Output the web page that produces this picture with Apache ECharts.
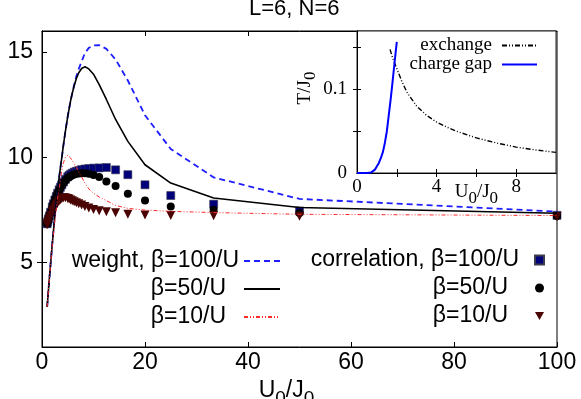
<!DOCTYPE html>
<html><head><meta charset="utf-8">
<script src="https://cdn.jsdelivr.net/npm/echarts@6/dist/echarts.min.js"></script>
<style>html,body{margin:0;padding:0;background:#fff}#c{width:581px;height:399px}</style>
</head><body><div id="c"></div>
<script>
// ---- data ----
const U = [1, 1.11, 1.25, 1.43, 1.67, 2, 2.22, 2.5, 2.78, 3.03, 3.33, 3.57, 3.85, 4.17, 4.55, 5, 5.26, 5.56, 5.88, 6.25, 6.67, 7.14, 7.69, 8.33, 9.09, 10, 11.11, 12.5, 14.29, 16.67, 20, 25, 33.33, 50, 100];
const weight100 = [2.9, 3.25, 3.7, 4.25, 4.95, 5.9, 6.5, 7.25, 7.95, 8.5, 9.05, 9.5, 10.0, 10.6, 11.25, 11.95, 12.3, 12.7, 13.05, 13.45, 13.85, 14.2, 14.55, 14.95, 15.2, 15.32, 15.33, 15.15, 14.65, 13.65, 12.0, 10.4, 9.05, 8.03, 7.43];
const weight50 = [2.9, 3.25, 3.7, 4.25, 4.95, 5.9, 6.5, 7.25, 7.95, 8.5, 9.05, 9.5, 10.0, 10.6, 11.25, 11.95, 12.3, 12.7, 13.05, 13.4, 13.75, 14.02, 14.22, 14.3, 14.2, 13.95, 13.45, 12.75, 11.8, 10.76, 9.65, 8.78, 8.07, 7.62, 7.35];
const weight10 = [2.9, 3.25, 3.7, 4.25, 4.95, 5.85, 6.35, 7.0, 7.6, 8.1, 8.45, 8.9, 9.4, 9.75, 10.0, 10.1, 10.05, 9.97, 9.85, 9.7, 9.52, 9.3, 9.08, 8.78, 8.5, 8.3, 8.12, 7.95, 7.72, 7.58, 7.5, 7.44, 7.38, 7.3, 7.24];
const corr100 = [6.85, 6.95, 7.08, 7.22, 7.4, 7.65, 7.8, 7.98, 8.15, 8.3, 8.46, 8.58, 8.7, 8.83, 8.96, 9.08, 9.14, 9.2, 9.25, 9.3, 9.34, 9.38, 9.42, 9.45, 9.47, 9.49, 9.5, 9.52, 9.41, 9.18, 8.7, 8.19, 7.78, 7.46, 7.25];
const corr50 = [6.85, 6.95, 7.08, 7.22, 7.4, 7.65, 7.8, 7.98, 8.15, 8.3, 8.45, 8.56, 8.68, 8.8, 8.92, 9.02, 9.07, 9.12, 9.16, 9.19, 9.22, 9.24, 9.25, 9.25, 9.22, 9.16, 9.07, 8.86, 8.64, 8.27, 7.95, 7.67, 7.51, 7.36, 7.22];
const corr10 = [6.8, 6.88, 6.98, 7.1, 7.25, 7.42, 7.52, 7.64, 7.75, 7.84, 7.93, 7.99, 8.04, 8.08, 8.08, 8.05, 8.02, 7.98, 7.94, 7.9, 7.85, 7.8, 7.74, 7.67, 7.6, 7.53, 7.47, 7.42, 7.37, 7.3, 7.26, 7.24, 7.23, 7.21, 7.18];
// inset
const gapU = [0, 0.5, 0.7, 0.8, 0.9, 1.0, 1.1, 1.2, 1.3, 1.4, 1.5, 1.6, 1.7, 1.8, 1.9, 2.0];
const gapT = [0, 0, 0.0005, 0.002, 0.004, 0.008, 0.012, 0.018, 0.025, 0.036, 0.05, 0.07, 0.09, 0.112, 0.135, 0.157];
const exU = [1.66, 1.8, 2, 2.25, 2.5, 3, 3.5, 4, 4.5, 5, 6, 7, 8, 9, 10];
const exT = [0.148, 0.137, 0.125, 0.11, 0.097, 0.08, 0.069, 0.061, 0.055, 0.05, 0.042, 0.036, 0.031, 0.0275, 0.0247];
// tick labels
const mainXTicks = [0, 20, 40, 60, 80, 100];
const mainYTicks = [5, 10, 15];
const insetXLabels = [0, 4, 8];
const insetYLabels = [0, 0.1];
const legendText = {
  w100: 'weight, β=100/U', w50: 'β=50/U', w10: 'β=10/U',
  c100: 'correlation, β=100/U', c50: 'β=50/U', c10: 'β=10/U',
  exchange: 'exchange', gap: 'charge gap'
};

const SANS = 'Liberation Sans';
const SERIF = 'Liberation Serif';
const pair = (xs, ys) => xs.map((x, i) => [x, ys[i]]);
const chart = echarts.init(document.getElementById('c'));

const tickStyle = {show: true, inside: true, length: 5, lineStyle: {color: '#000', width: 1}};
const axLine = {show: true, lineStyle: {color: '#000', width: 1}};
const SQ = '#00007a', CI = '#000000', TR = '#4a0404';

chart.setOption({
  animation: false,
  backgroundColor: '#fff',
  title: {text: 'L=6, N=6', left: 249, top: -2, padding: 0,
    textStyle: {fontFamily: SANS, fontSize: 22, fontWeight: 'normal', color: '#000'}},
  grid: [
    {left: 42, top: 31, width: 515, height: 316, show: true, borderColor: '#000', borderWidth: 1,
     backgroundColor: 'transparent', containLabel: false, outerBoundsMode: 'none'},
    {left: 357, top: 31, width: 199, height: 142, show: true, borderColor: '#222', borderWidth: 1,
     backgroundColor: '#fff', z: 5, containLabel: false, outerBoundsMode: 'none'}
  ],
  xAxis: [
    {gridIndex: 0, type: 'value', min: 0, max: 100, interval: 20, position: 'bottom',
     axisLine: axLine, axisTick: Object.assign({}, tickStyle, {customValues: mainXTicks}),
     splitLine: {show: false},
     axisLabel: {customValues: mainXTicks, fontFamily: SANS, fontSize: 23, color: '#000', margin: 4},
     name: '{u|U}{s|0}{u|/J}{s|0}', nameLocation: 'middle', nameGap: 22,
     nameTextStyle: {padding: [0, 26, 0, 0], rich: {
       u: {fontFamily: SANS, fontSize: 23, color: '#000'},
       s: {fontFamily: SANS, fontSize: 19, color: '#000', padding: [16, 0, 0, 0]}}}},
    {gridIndex: 0, type: 'value', min: 0, max: 100, interval: 20, position: 'top',
     axisLine: axLine, axisTick: Object.assign({}, tickStyle, {customValues: [20, 40]}),
     axisLabel: {show: false}, splitLine: {show: false}},
    {gridIndex: 1, type: 'value', min: 0, max: 10, interval: 2, position: 'bottom', z: 6,
     axisLine: axLine, axisTick: Object.assign({}, tickStyle, {length: 4, customValues: [2, 4, 6, 8]}),
     splitLine: {show: false},
     axisLabel: {customValues: insetXLabels.concat([6]), margin: 5, color: '#000', fontFamily: SERIF, fontSize: 19,
       formatter: v => (v === 6 ? '{u|U}{s|0}{u|/J}{s|0}' : String(v)),
       rich: {u: {fontFamily: SERIF, fontSize: 19, color: '#000'},
              s: {fontFamily: SERIF, fontSize: 17, color: '#000', padding: [12, 0, 0, 0]}}}},
    {gridIndex: 1, type: 'value', min: 0, max: 10, interval: 2, position: 'top', z: 6,
     axisLine: axLine, axisTick: Object.assign({}, tickStyle, {length: 4, customValues: [2, 4, 6, 8]}),
     axisLabel: {show: false}, splitLine: {show: false}}
  ],
  yAxis: [
    {gridIndex: 0, type: 'value', min: 1, max: 16, position: 'left',
     axisLine: axLine, axisTick: Object.assign({}, tickStyle, {customValues: mainYTicks}),
     splitLine: {show: false},
     axisLabel: {customValues: mainYTicks, fontFamily: SANS, fontSize: 23, color: '#000', margin: 9}},
    {gridIndex: 0, type: 'value', min: 1, max: 16, position: 'right',
     axisLine: axLine, axisTick: Object.assign({}, tickStyle, {customValues: [5]}),
     axisLabel: {show: false}, splitLine: {show: false}},
    {gridIndex: 1, type: 'value', min: 0, max: 0.17, position: 'left', z: 6,
     axisLine: axLine, axisTick: Object.assign({}, tickStyle, {length: 4, customValues: [0.05, 0.1, 0.15]}),
     splitLine: {show: false},
     axisLabel: {customValues: insetYLabels, fontFamily: SERIF, fontSize: 19, color: '#000', margin: 10,
       formatter: v => (v === 0 ? '0' : String(v))}},
    {gridIndex: 1, type: 'value', min: 0, max: 0.17, position: 'right', z: 6,
     axisLine: axLine, axisTick: Object.assign({}, tickStyle, {length: 4, customValues: [0.05, 0.1, 0.15]}),
     axisLabel: {show: false}, splitLine: {show: false}}
  ],
  legend: [
    {data: ['w100', 'w50', 'w10'], orient: 'vertical', align: 'right', right: 300, top: 247, padding: 0,
     itemWidth: 36, itemHeight: 2, itemGap: 0, itemStyle: {opacity: 0},
     formatter: n => (n === 'w100' ? legendText[n] : '{p|' + legendText[n] + '}'),
     textStyle: {fontFamily: SANS, fontSize: 23, color: '#000', lineHeight: 28,
       rich: {p: {fontFamily: SANS, fontSize: 23, color: '#000', lineHeight: 28, padding: [0, 13, 0, 0]}}}},
    {data: [
       {name: 'c100', icon: 'rect', itemStyle: {color: SQ, opacity: 1}},
       {name: 'c50', icon: 'circle', itemStyle: {color: CI, opacity: 1}},
       {name: 'c10', icon: 'path://M0,0L10,0L5,9Z', itemStyle: {color: TR, opacity: 1}}],
     orient: 'vertical', align: 'right', right: 36, top: 246, padding: 0,
     itemWidth: 9, itemHeight: 9, itemGap: 0,
     formatter: n => (n === 'c100' ? '{q|' + legendText[n] + '}' : '{p|' + legendText[n] + '}'),
     textStyle: {fontFamily: SANS, fontSize: 23, color: '#000', lineHeight: 28,
       rich: {q: {fontFamily: SANS, fontSize: 23, color: '#000', lineHeight: 28, padding: [0, 11, 0, 0]},
              p: {fontFamily: SANS, fontSize: 23, color: '#000', lineHeight: 28, padding: [0, 22, 0, 0]}}}},
    {data: ['exchange', 'gap'], orient: 'vertical', align: 'right', right: 43, top: 36, padding: 0, z: 10,
     itemWidth: 35, itemHeight: 2, itemGap: 0, itemStyle: {opacity: 0},
     formatter: n => '{t|' + legendText[n] + '}',
     textStyle: {fontFamily: SERIF, fontSize: 19, color: '#000', lineHeight: 14,
       rich: {t: {fontFamily: SERIF, fontSize: 19, color: '#000', lineHeight: 14, padding: [0, 5, 0, 0]}}}}
  ],
  graphic: [
    {type: 'text', x: 305, y: 88, rotation: Math.PI / 2, z: 20,
     style: {text: '{u|T/J}{s|0}', align: 'center', verticalAlign: 'middle',
       rich: {u: {fontFamily: SERIF, fontSize: 19, fill: '#000'},
              s: {fontFamily: SERIF, fontSize: 17, fill: '#000', padding: [12, 0, 0, 0]}}}}
  ],
  series: [
    {name: 'w100', type: 'line', xAxisIndex: 0, yAxisIndex: 0, data: pair(U, weight100), symbol: 'none',
     lineStyle: {color: '#1e1eff', width: 1.8, type: [6, 4]}, itemStyle: {color: '#1e1eff'}},
    {name: 'w50', type: 'line', xAxisIndex: 0, yAxisIndex: 0, data: pair(U, weight50), symbol: 'none',
     lineStyle: {color: '#000', width: 1.6}, itemStyle: {color: '#000'}},
    {name: 'w10', type: 'line', xAxisIndex: 0, yAxisIndex: 0, data: pair(U, weight10), symbol: 'none',
     lineStyle: {color: '#ff2a2a', width: 1, type: [4, 2, 1, 2, 1, 2]}, itemStyle: {color: '#ff2a2a'}},
    {name: 'c100', type: 'scatter', xAxisIndex: 0, yAxisIndex: 0, data: pair(U, corr100), symbol: 'rect', symbolSize: 8,
     itemStyle: {color: SQ, opacity: 1, borderColor: '#3c3c50', borderWidth: 0.6}},
    {name: 'c50', type: 'scatter', xAxisIndex: 0, yAxisIndex: 0, data: pair(U, corr50), symbol: 'circle', symbolSize: 8,
     itemStyle: {color: CI, opacity: 1}},
    {name: 'c10', type: 'scatter', xAxisIndex: 0, yAxisIndex: 0, data: pair(U, corr10), symbol: 'triangle', symbolRotate: 180, symbolSize: 9,
     itemStyle: {color: TR, opacity: 1}},
    {name: 'exchange', type: 'line', xAxisIndex: 2, yAxisIndex: 2, data: pair(exU, exT), symbol: 'none', z: 8,
     lineStyle: {color: '#000', width: 1.4, type: [5, 2, 1, 2, 1, 2]}, itemStyle: {color: '#000'}},
    {name: 'gap', type: 'line', xAxisIndex: 2, yAxisIndex: 2, data: pair(gapU, gapT), symbol: 'none', z: 8,
     lineStyle: {color: '#0000ff', width: 2}, itemStyle: {color: '#0000ff'}}
  ]
});
</script></body></html>
